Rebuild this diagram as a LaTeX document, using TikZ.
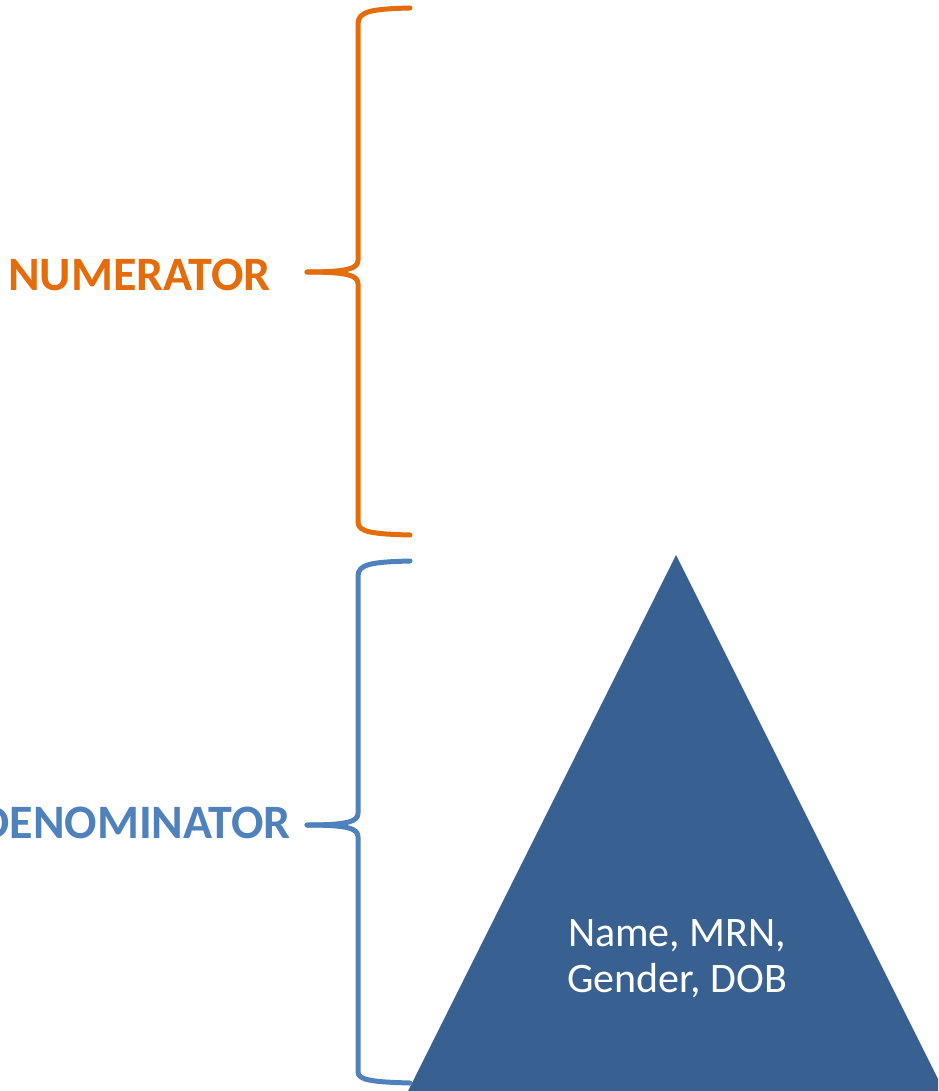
\documentclass[tikz,border=0pt]{standalone}
\usepackage{fontspec}
\setmainfont{Carlito}
\definecolor{numor}{HTML}{E46C0A}
\definecolor{denbl}{HTML}{4F81BD}
\definecolor{trifill}{HTML}{386192}
\begin{document}
\begin{tikzpicture}[x=1pt,y=-1pt,
  bracepath/.style={line width=5pt,line cap=round,line join=round},
  lbl/.style={font=\fontsize{48}{54}\selectfont\bfseries,anchor=east,inner sep=0pt},
  tritext/.style={text=white,font=\fontsize{42}{46}\selectfont,align=center,inner sep=0pt}]
\path[use as bounding box] (0,0) rectangle (938,1091);
\begin{scope}
\clip (0,0) rectangle (938,1091);
% triangle
\fill[trifill] (676,555) -- (944,1091) -- (408,1091) -- cycle;
\node[tritext] (tri) at (677,959) {Name, MRN,\\Gender, DOB};
% orange brace
\coordinate (ntip) at (307,272);
\draw[bracepath,numor] (410,8) .. controls (372,9) and (358,11) .. (358,24) -- (358,260) .. controls (358,268) and (350,272) .. (ntip);
\draw[bracepath,numor] (ntip) .. controls (350,272) and (358,276) .. (358,284) -- (358,522) .. controls (358,532) and (372,534) .. (410,535);
\node[lbl,text=numor] (num) at (271,275) {NUMERATOR};
% blue brace
\coordinate (dtip) at (307,825);
\draw[bracepath,denbl] (410,561) .. controls (372,562) and (358,564) .. (358,576) -- (358,813) .. controls (358,821) and (350,825) .. (dtip);
\draw[bracepath,denbl] (dtip) .. controls (350,825) and (358,829) .. (358,837) -- (358,1072) .. controls (358,1080) and (372,1082) .. (410,1083);
\node[lbl,text=denbl] (den) at (291,823) {DENOMINATOR};
\end{scope}
\end{tikzpicture}
\end{document}
